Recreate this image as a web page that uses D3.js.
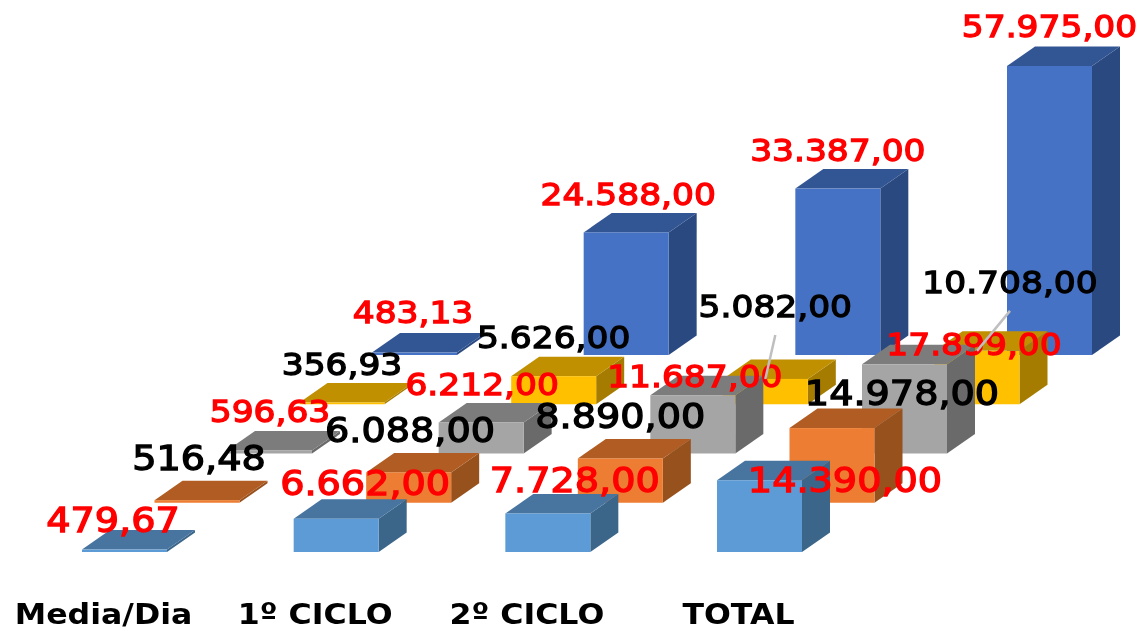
<!DOCTYPE html>
<html>
<head>
<meta charset="utf-8">
<script src="https://cdn.jsdelivr.net/npm/d3@7"></script>
<style>
  body { margin: 0; background: #fff; }
  text { font-family: "DejaVu Sans", sans-serif; }
</style>
</head>
<body>
<svg id="chart"></svg>
<script>
var width = 1142;
var height = 631;

// categories along x, series going back in depth (front one first)
var categories = ["Media/Dia", "1º CICLO", "2º CICLO", "TOTAL"];
var seriesNames = ["s1", "s2", "s3", "s4", "s5"];

var s1 = [479.67, 6662, 7728, 14390];
var s2 = [516.48, 6088, 8890, 14978];
var s3 = [596.63, 6212, 11687, 17899];
var s4 = [356.93, 5626, 5082, 10708];
var s5 = [483.13, 24588, 33387, 57975];
var allSeries = [s1, s2, s3, s4, s5];

// colours: front, top, side
var frontColors = ["#5b9bd5", "#ed7d31", "#a5a5a5", "#ffc000", "#4472c4"];
var topColors = ["#47749f", "#b05c23", "#7c7c7c", "#c09000", "#335593"];
var sideColors = ["#3a6589", "#97511f", "#6b6b6b", "#a67c00", "#2b4a80"];
var labelColors = ["#ff0000", "#000000", "#ff0000", "#000000", "#ff0000"];
var labelSizes = [33.8, 33.8, 30.5, 30.5, 30.5]; // front two series have bigger labels

// hand placed labels in the original, offset from the top of the bar
var labelOffsets = [
  [[-11.5, -18], [29, -24], [27, -21.5], [85.5, 12]],
  [[2, -30], [1.3, -30.7], [0, -30], [70, -23]],
  [[0.5, -29], [1, -27.5], [2, -8], [69.5, -9]],
  [[0, -27.5], [0, -28], [10, -62], [33, -58]],
  [[-1.5, -29.6], [2, -27], [0, -28], [0, -29]]
];
// the two labels that have a leader line: [series, category]
var leaders = [[3, 2], [3, 3]];

var barWidth = 85;
var depthX = 28;
var depthY = 19.5;
var stretch = 1.13; // the picture is wider than the font

var svg = d3.select("#chart")
  .attr("width", width)
  .attr("height", height)
  .style("display", "block");

var defs = svg.append("defs");
defs.append("filter").attr("id", "soft")
  .append("feGaussianBlur").attr("stdDeviation", 0.7);

var root = svg.append("g").attr("filter", "url(#soft)");

// scales
var x = d3.scalePoint().domain(d3.range(categories.length)).range([82, 717]);
var shiftX = d3.scalePoint().domain(d3.range(seriesNames.length)).range([0, 290]);
var base = d3.scalePoint().domain(d3.range(seriesNames.length)).range([552, 355]);
var h = d3.scaleLinear().domain([0, 57975]).range([0, 289]);

var fmt = d3.formatLocale({ decimal: ",", thousands: ".", grouping: [3], currency: ["", ""] }).format(",.2f");

// flatten, back series first so the front ones paint over
var bars = [];
d3.range(seriesNames.length).reverse().forEach(function(s) {
  allSeries[s].forEach(function(v, c) {
    bars.push({
      s: s, c: c, v: v,
      x0: x(c) + shiftX(s),
      y0: base(s),
      top: base(s) - h(v)
    });
  });
});

var bar = root.selectAll("g.bar")
  .data(bars)
  .join("g")
    .attr("class", "bar");

// side face
bar.append("path")
  .attr("fill", d => sideColors[d.s])
  .attr("d", function(d) {
    var r = d.x0 + barWidth;
    return "M" + r + "," + d.y0 + "L" + (r + depthX) + "," + (d.y0 - depthY) +
      "L" + (r + depthX) + "," + (d.top - depthY) + "L" + r + "," + d.top + "Z";
  });

// top face
bar.append("path")
  .attr("fill", d => topColors[d.s])
  .attr("d", function(d) {
    return "M" + d.x0 + "," + d.top + "L" + (d.x0 + depthX) + "," + (d.top - depthY) +
      "L" + (d.x0 + barWidth + depthX) + "," + (d.top - depthY) +
      "L" + (d.x0 + barWidth) + "," + d.top + "Z";
  });

// front face
bar.append("rect")
  .attr("x", d => d.x0)
  .attr("y", d => d.top)
  .attr("width", barWidth)
  .attr("height", d => d.y0 - d.top)
  .attr("fill", d => frontColors[d.s]);

function labelX(d) { return d.x0 + barWidth / 2 + labelOffsets[d.s][d.c][0]; }
function labelY(d) { return d.top + labelOffsets[d.s][d.c][1]; }

// value labels
root.selectAll("text.value")
  .data(bars)
  .join("text")
    .attr("class", "value")
    .attr("text-anchor", "middle")
    .attr("transform", d => "translate(" + labelX(d) + "," + labelY(d) + ") scale(" + stretch + ",1)")
    .attr("font-size", d => labelSizes[d.s])
    .attr("fill", d => labelColors[d.s])
    .attr("stroke", d => labelColors[d.s])
    .attr("stroke-width", 1.3)
    .text(d => fmt(d.v));

// leader lines
root.selectAll("line.leader")
  .data(bars.filter(d => leaders.some(l => l[0] === d.s && l[1] === d.c)))
  .join("line")
    .attr("class", "leader")
    .attr("x1", d => labelX(d))
    .attr("y1", d => labelY(d) + 18)
    .attr("x2", d => d.x0 + barWidth / 2)
    .attr("y2", d => d.top)
    .attr("stroke", "#bfbfbf")
    .attr("stroke-width", 2.5);

// category axis
var xAxis = d3.scalePoint().domain(categories).range([103, 738]);
var axisG = root.append("g")
  .attr("transform", "translate(0,624)")
  .call(d3.axisBottom(xAxis).tickSize(0).tickPadding(0));
axisG.select(".domain").remove();
axisG.selectAll("text")
  .attr("y", 0)
  .attr("dy", 0)
  .attr("transform", "scale(1.09,1)")
  .attr("font-family", "'DejaVu Sans', sans-serif")
  .attr("font-size", 29)
  .attr("font-weight", "bold")
  .attr("fill", "#000");
</script>
</body>
</html>
